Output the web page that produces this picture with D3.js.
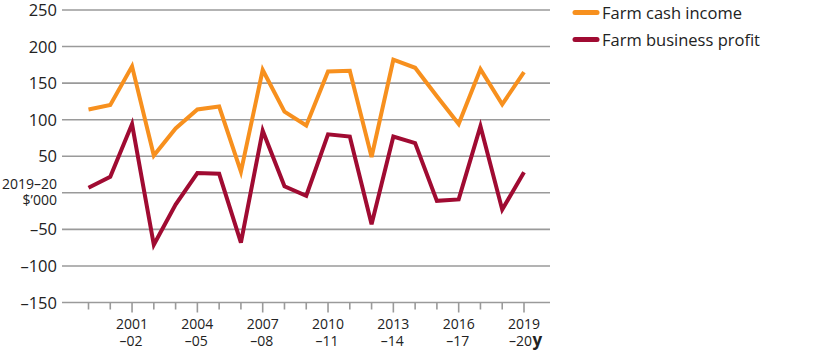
<!DOCTYPE html>
<html>
<head>
<meta charset="utf-8">
<script src="https://cdn.jsdelivr.net/npm/d3@7"></script>
<style>
  html, body { margin: 0; padding: 0; background: #fff; }
  svg { display: block; font-family: "Open Sans", Lato, sans-serif; }
</style>
</head>
<body>
<svg id="chart" width="815" height="356"></svg>
<script>
const years = ["1999–00","2000–01","2001–02","2002–03","2003–04","2004–05","2005–06","2006–07","2007–08","2008–09","2009–10","2010–11","2011–12","2012–13","2013–14","2014–15","2015–16","2016–17","2017–18","2018–19","2019–20"];
const farmCashIncome = [114,120,173,51,88,114,118,29,168,111,92,166,167,49,182,171,132,94,169,121,165];
const farmBusinessProfit = [7,22,94,-71,-16,27,26,-68,85,9,-4,80,77,-43,77,68,-11,-9,91,-23,28];
const yTicks = [-150,-100,-50,0,50,100,150,200,250];
const xLabelIdx = [2,5,8,11,14,17,20];
const seriesNames = ["Farm cash income","Farm business profit"];
const colors = ["#F7901E","#A00B32"];

const svg = d3.select("#chart");
const x = d3.scalePoint().domain(years).range([88.5, 524]);
const y = d3.scaleLinear().domain([-150, 250]).range([302.5, 10]);
const gridX0 = 62, gridX1 = 550;

// gridlines
svg.append("g").selectAll("line").data(yTicks).join("line")
  .attr("x1", gridX0).attr("x2", gridX1)
  .attr("y1", d => y(d)).attr("y2", d => y(d))
  .attr("stroke", "#9a9a9a").attr("stroke-width", 1.6);

// y labels
const yl = svg.append("g").attr("font-size", 16.5).attr("fill", "#222").attr("text-anchor", "end");
yl.selectAll("text").data(yTicks.filter(d => d !== 0)).join("text")
  .attr("x", 57).attr("y", d => y(d) + 6)
  .text(d => d < 0 ? "–" + Math.abs(d) : d);
yl.append("text").attr("x", 57).attr("y", y(0) - 4).attr("font-size", 14).text("2019–20");
yl.append("text").attr("x", 57).attr("y", y(0) + 12).attr("font-size", 14).text("$’000");

// x ticks
svg.append("g").selectAll("line").data(years).join("line")
  .attr("x1", d => x(d)).attr("x2", d => x(d))
  .attr("y1", y(-150)).attr("y2", (d, i) => y(-150) + (xLabelIdx.includes(i) ? 10 : 7))
  .attr("stroke", "#9a9a9a").attr("stroke-width", 1.6);

// x labels
const xl = svg.append("g").attr("font-size", 14).attr("fill", "#222").attr("text-anchor", "middle");
xLabelIdx.forEach(i => {
  const parts = years[i].split("–");
  xl.append("text").attr("x", x(years[i])).attr("y", 329).text(parts[0]);
  if (i === years.length - 1) {
    xl.append("text").attr("x", x(years[i]) + 8).attr("y", 346).attr("text-anchor", "end").text("–" + parts[1]);
    svg.append("text").attr("x", x(years[i]) + 8.5).attr("y", 346)
      .attr("font-size", 17).attr("font-weight", "bold").attr("fill", "#222").text("y");
  } else {
    xl.append("text").attr("x", x(years[i]) - 1).attr("y", 346).text("–" + parts[1]);
  }
});

// lines
const line = d3.line().x((d, i) => x(years[i])).y(d => y(d));
[farmCashIncome, farmBusinessProfit].forEach((s, k) => {
  svg.append("path").datum(s).attr("d", line)
    .attr("fill", "none").attr("stroke", colors[k]).attr("stroke-width", 4)
    .attr("stroke-linejoin", "miter").attr("stroke-linecap", "butt");
});

// legend
const lg = svg.append("g");
seriesNames.forEach((n, k) => {
  const yy = 12.5 + k * 27;
  lg.append("line").attr("x1", 575).attr("x2", 597).attr("y1", yy).attr("y2", yy)
    .attr("stroke", colors[k]).attr("stroke-width", 5).attr("stroke-linecap", "round");
  lg.append("text").attr("x", 602).attr("y", yy + 6).attr("font-size", 16.5).attr("fill", "#222").text(n);
});
</script>
</body>
</html>
